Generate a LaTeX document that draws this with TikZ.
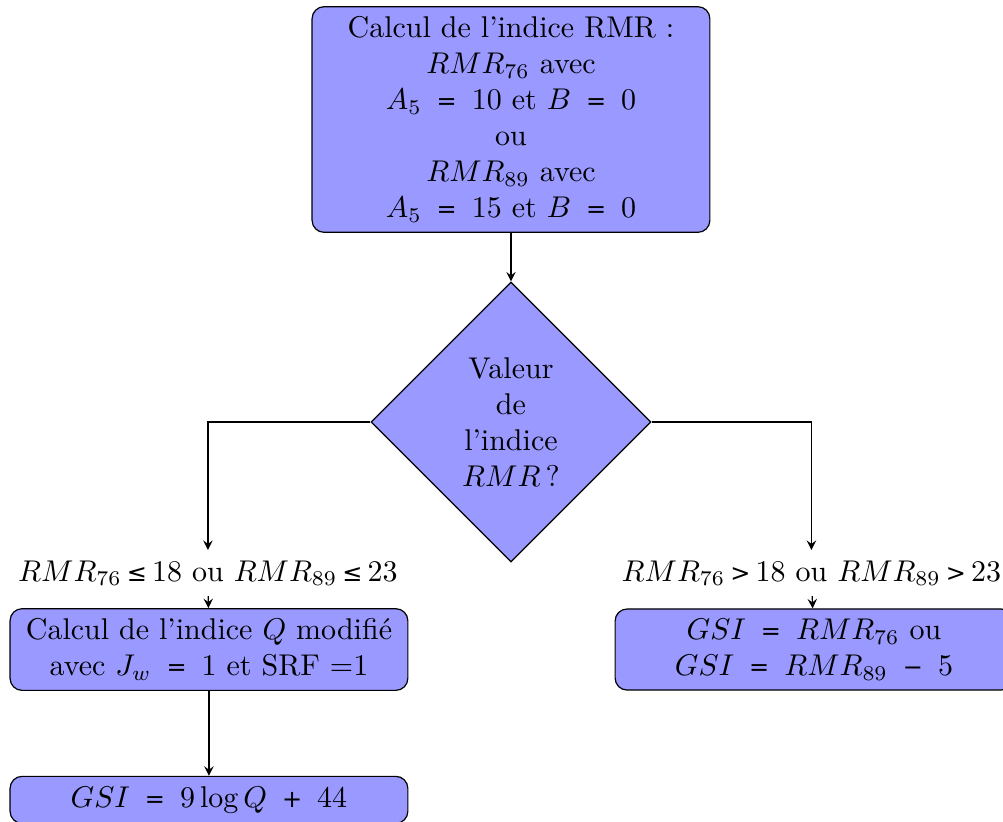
\documentclass[tikz,border=0pt]{standalone}
\usepackage{fontspec}
\newfontfamily\symbfont{DejaVu Sans}
\newcommand{\egal}{\enspace{\symbfont\footnotesize =}\enspace}
\newcommand{\symb}[1]{\hspace{1.7pt}{\symbfont\footnotesize #1}\hspace{1.7pt}}
\newcommand{\oper}[1]{\enspace{\symbfont\footnotesize #1}\enspace}
\usetikzlibrary{shapes.geometric,positioning,arrows}
\begin{document}
\begin{tikzpicture}[boite/.style ={rectangle, rounded corners, draw, fill=blue!40, align=center, minimum width=4.66cm},
  losange/.style ={diamond, draw, fill=blue!40, align=center, minimum width=3.28cm, minimum height=3.28cm, inner sep=1pt},
  fleche/.style ={-stealth}]
  \useasboundingbox (-5.986,1.4) rectangle (5.764,-8.218);
  \node[boite, minimum height=2.63cm] (rmr) at (0,0)
    {Calcul de l'indice RMR :\\ $RMR_{76}$ avec\\ $A_5$\egal 10 et $B$\egal 0\\ ou\\ $RMR_{89}$ avec\\ $A_5$\egal 15 et $B$\egal 0};
  \node[losange] (valeur) at (0,-3.544) {Valeur\\ de\\ l'indice\\ $RMR\,$?};
  \node (condg) at (-3.55,-5.313) {$RMR_{76}$\symb{≤}18 ou $RMR_{89}$\symb{≤}23};
  \node (condd) at (3.52,-5.313) {$RMR_{76}$\symb{>}18 ou $RMR_{89}$\symb{>}23};
  \node[boite, minimum height=0.95cm] (calculq) at (-3.538,-6.209)
    {Calcul de l'indice $Q$ modifi\'e\\ avec $J_w$\egal 1 et SRF =1};
  \node[boite, minimum height=0.95cm] (gsid) at (3.55,-6.209)
    {$GSI$\egal $RMR_{76}$ ou\\ $GSI$\egal $RMR_{89}$\oper{−}5};
  \node[boite, minimum height=0.52cm] (gsig) at (-3.538,-7.97)
    {$GSI$\egal $9\log Q$\oper{+}44};
  % liaisons
  \draw[fleche] (rmr) -- (valeur);
  \draw[fleche] (valeur.west) -| (condg);
  \draw[fleche] (valeur.east) -| (condd);
  \draw[fleche] (condg) -- (calculq);
  \draw[fleche] (condd) -- (gsid);
  \draw[fleche] (calculq) -- (gsig);
\end{tikzpicture}
\end{document}
